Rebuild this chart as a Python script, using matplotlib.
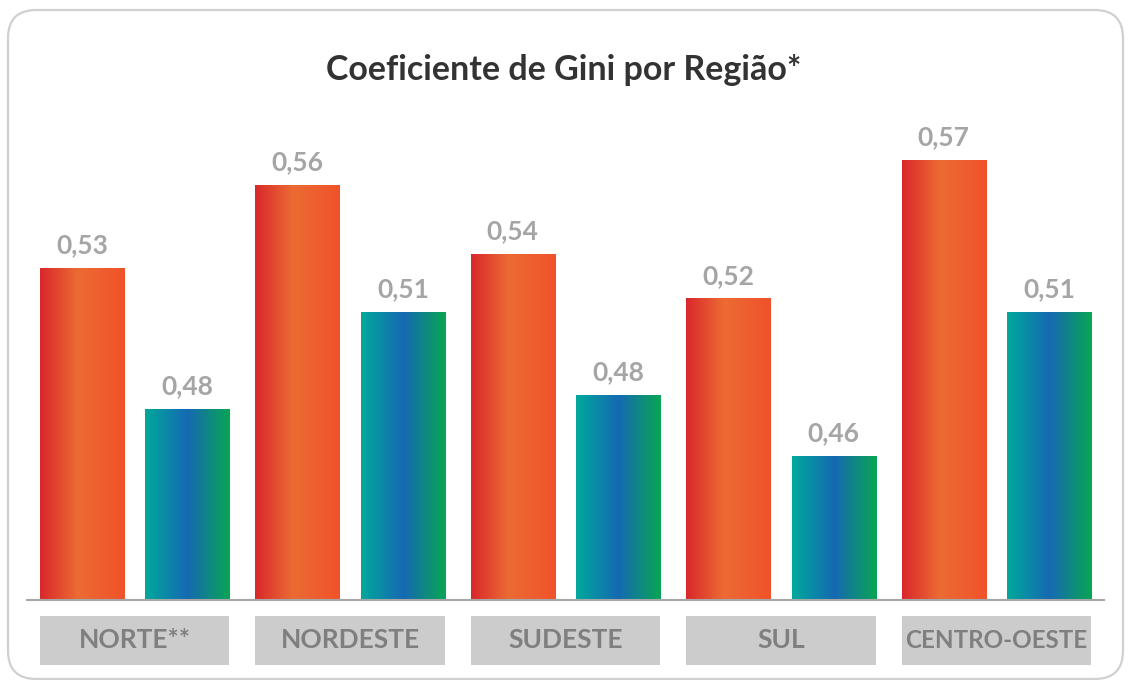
import numpy as np
import matplotlib.pyplot as plt
from matplotlib.patches import FancyBboxPatch, Rectangle
from matplotlib.colors import LinearSegmentedColormap

# data
regioes = ['NORTE**', 'NORDESTE', 'SUDESTE', 'SUL', 'CENTRO-OESTE']
serie_a = [0.530, 0.560, 0.535, 0.519, 0.569]
serie_b = [0.479, 0.514, 0.484, 0.462, 0.514]

plt.rcParams['font.family'] = ['Lato', 'DejaVu Sans']

W, H = 1128, 680
fig = plt.figure(figsize=(W / 100, H / 100), dpi=100)

# rounded frame
frame = FancyBboxPatch((8 / W, 1 / H), 1115 / W, 669 / H,
                       boxstyle="round,pad=0,rounding_size=0.025",
                       transform=fig.transFigure, fill=False,
                       ec='#d0d0d0', lw=1.6, mutation_aspect=W / H)
fig.patches.append(frame)

# axes placed by pixels
ax = fig.add_axes([27 / W, (H - 600) / H, (1104 - 27) / W, (600 - 130) / H])
ax.set_xlim(-0.5, 4.5)
ax.set_ylim(0.41, 0.58)
ax.axis('off')

cm_red = LinearSegmentedColormap.from_list('r', [(0, '#d9282b'), (0.45, '#ec6b33'), (1, '#f0522a')])
cm_teal = LinearSegmentedColormap.from_list('t', [(0, '#00a99b'), (0.5, '#1669b3'), (1, '#08a653')])
grad = np.linspace(0, 1, 256).reshape(1, -1)

bw = 0.39
off = 0.245
x = np.arange(len(regioes))


def grad_bars(xs, vals, cmap):
    bars = ax.bar(xs, [v - 0.41 for v in vals], bw, bottom=0.41, color='none', ec='none')
    for b, v in zip(bars, vals):
        x0 = b.get_x()
        ax.imshow(grad, cmap=cmap, aspect='auto', interpolation='bicubic',
                  extent=(x0, x0 + bw, 0.41, v), zorder=2)
        ax.text(x0 + bw / 2, v + 0.0054, f'{v:.2f}'.replace('.', ','),
                ha='center', va='baseline', fontsize=19, fontweight='bold', color='#a5a5a5')


grad_bars(x - off, serie_a, cm_red)
grad_bars(x + off, serie_b, cm_teal)
ax.set_xlim(-0.5, 4.5)
ax.set_ylim(0.41, 0.58)

# baseline
ax.plot([-0.5, 4.5], [0.41, 0.41], color='#a6a6a6', lw=1.5, clip_on=False, zorder=3)

# category boxes
renderer = fig.canvas.get_renderer()
box_px = (2 * off + bw) / 5 * (1104 - 27)
for i, r in enumerate(regioes):
    x0 = i - off - bw / 2
    ax.add_patch(Rectangle((x0, -0.034), 2 * off + bw, -0.104, transform=ax.get_xaxis_transform(),
                           facecolor='#cccccc', ec='none', clip_on=False))
    t = ax.text(i, -0.086, r, transform=ax.get_xaxis_transform(), ha='center', va='center',
                fontsize=19, fontweight='bold', color='#7f7f7f')
    w = t.get_window_extent(renderer).width
    if w > box_px - 8:
        t.set_fontsize(19 * (box_px - 8) / w)

fig.text(0.5, (H - 70) / H, 'Coeficiente de Gini por Região*', ha='center', va='center',
         fontsize=24.5, fontweight='bold', color='#333333')

fig.savefig('out.png', dpi=100)
